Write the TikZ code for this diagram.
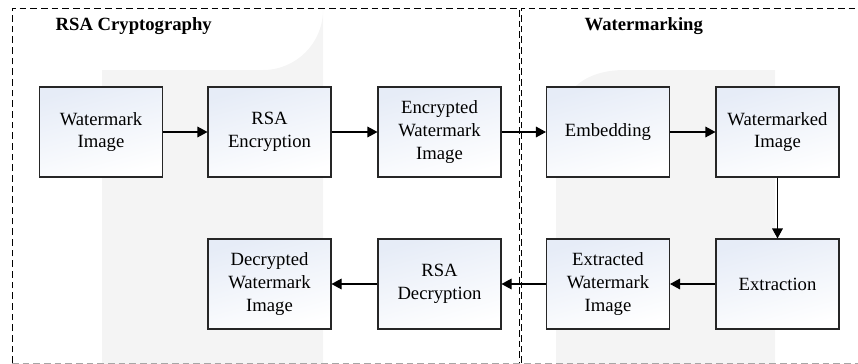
\documentclass[tikz,border=0pt]{standalone}
\usepackage{fontspec}
\setmainfont{Liberation Serif}
\usetikzlibrary{arrows.meta}
\definecolor{wmgray}{HTML}{F4F4F4}
\definecolor{boxblue}{HTML}{E6ECF7}
\tikzset{
  procbox/.style={draw=black!85, line width=0.8pt, minimum width=92.25pt, minimum height=67.5pt,
    align=center, inner sep=2pt, font=\fontsize{14}{17}\selectfont,
    top color=boxblue, bottom color=white, shading angle=15},
  flow/.style={line width=0.8pt, -{Triangle[length=7.5pt,width=8pt]}},
  frame/.style={dash pattern=on 5pt off 3pt, line width=0.7pt},
  framebot/.style={dash pattern=on 5pt off 3pt, line width=0.7pt, draw=black!35},
  grouptitle/.style={font=\bfseries\fontsize{14}{17}\selectfont, anchor=west}
}
\begin{document}
\begin{tikzpicture}[x=0.75pt,y=-0.75pt]
\useasboundingbox (0,0) rectangle (858,364);
% background watermark shapes
\fill[wmgray] (102,364) -- (102,70) -- (263,70) arc[start angle=90,end angle=0,radius=60] -- (323,364) -- cycle;
\fill[wmgray] (556,364) -- (556,140) .. controls (556,95) and (580,70) .. (625,70) -- (775,70) -- (775,364) -- cycle;
% frames
\draw[frame] (12,363) -- (12,8) -- (519,8) -- (519,363);
\draw[frame] (521,363) -- (521,8) -- (858,8);
\draw[framebot] (12,363) -- (858,363);
% titles
\node[grouptitle] (t1) at (51,26) {RSA Cryptography};
\node[grouptitle] (t2) at (580,26) {Watermarking};
% boxes
\node[procbox] (wi) at (101,132) {Watermark\\Image};
\node[procbox] (re) at (269.5,132) {RSA\\Encryption};
\node[procbox] (ew) at (439.5,132) {Encrypted\\Watermark\\Image};
\node[procbox] (em) at (608,132) {Embedding};
\node[procbox] (wd) at (777.5,132) {Watermarked\\Image};
\node[procbox] (dw) at (269.5,284) {Decrypted\\Watermark\\Image};
\node[procbox] (rd) at (439.5,284) {RSA\\Decryption};
\node[procbox] (xw) at (608,284) {Extracted\\Watermark\\Image};
\node[procbox] (ex) at (777.5,284) {Extraction};
% connectors
\draw[flow] (wi) -- (re);
\draw[flow] (re) -- (ew);
\draw[flow] (ew) -- (em);
\draw[flow] (em) -- (wd);
\draw[flow] (wd) -- (ex);
\draw[flow] (ex) -- (xw);
\draw[flow] (xw) -- (rd);
\draw[flow] (rd) -- (dw);
\end{tikzpicture}
\end{document}
